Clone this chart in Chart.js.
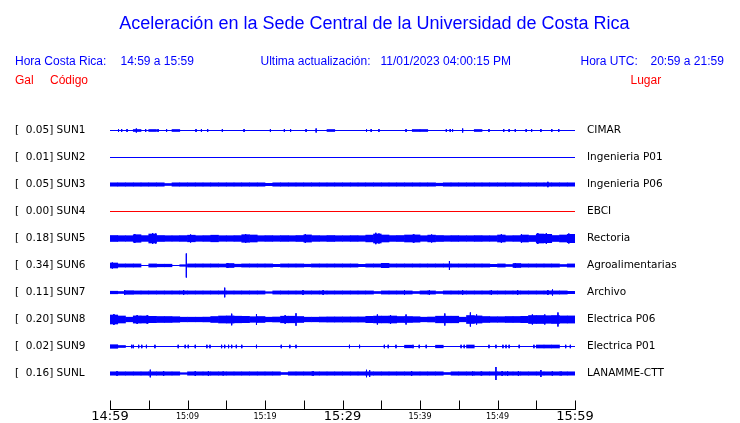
<!DOCTYPE html>
<html lang="es">
<head>
<meta charset="utf-8">
<title>Aceleración Sede Central</title>
<script src="https://cdn.jsdelivr.net/npm/chart.js@4.4.0/dist/chart.umd.min.js"></script>
<style>
  body { margin: 0; background: #fff; }
  #wrap { position: relative; width: 740px; height: 423px; overflow: hidden; }
  #sismo { position: absolute; left: 0; top: 0; }
  .t { position: absolute; font-family: "Liberation Sans", Arial, sans-serif; font-size: 12px; line-height: 1; white-space: pre; }
  .azul { color: #0000ff; }
  .rojo { color: #ff0000; }
  .titulo { left: 0; width: 749px; text-align: center; top: 14px; font-size: 18px; }
</style>
</head>
<body>
<div id="wrap">
  <canvas id="sismo" width="740" height="423"></canvas>
  <div class="t azul titulo">Aceleración en la Sede Central de la Universidad de Costa Rica</div>
  <div class="t azul" style="left:15px;top:54.5px">Hora Costa Rica:</div>
  <div class="t azul" style="left:120.5px;top:54.5px">14:59 a 15:59</div>
  <div class="t azul" style="left:260.5px;top:54.5px">Ultima actualización:</div>
  <div class="t azul" style="left:380.5px;top:54.5px">11/01/2023 04:00:15 PM</div>
  <div class="t azul" style="left:580.5px;top:54.5px">Hora UTC:</div>
  <div class="t azul" style="left:650.5px;top:54.5px">20:59 a 21:59</div>
  <div class="t rojo" style="left:15px;top:74px">Gal</div>
  <div class="t rojo" style="left:50px;top:74px">Código</div>
  <div class="t rojo" style="left:630.5px;top:74px">Lugar</div>
</div>
<script>
// estaciones, pico en Gal y lugar
const estaciones = ['SUN1', 'SUN2', 'SUN3', 'SUN4', 'SUN5', 'SUN6', 'SUN7', 'SUN8', 'SUN9', 'SUNL'];
const picosGal   = ['0.05', '0.01', '0.05', '0.00', '0.18', '0.34', '0.11', '0.20', '0.02', '0.16'];
const lugares    = ['CIMAR', 'Ingenieria P01', 'Ingenieria P06', 'EBCI', 'Rectoria', 'Agroalimentarias',
                    'Archivo', 'Electrica P06', 'Electrica P01', 'LANAMME-CTT'];
const colores    = ['#0000ff', '#0000ff', '#0000ff', '#ff0000', '#0000ff', '#0000ff', '#0000ff', '#0000ff', '#0000ff', '#0000ff'];

// eje de tiempo (minutos desde 14:59)
const minutosTicks = [0, 5, 10, 15, 20, 25, 30, 35, 40, 45, 50, 55, 60];
const etiquetasHora = ['14:59', '', '15:09', '', '15:19', '', '15:29', '', '15:39', '', '15:49', '', '15:59'];
const horasGrandes = ['14:59', '15:29', '15:59'];

// separacion entre trazas (unidades de amplitud)
const separacion = 27;

// envolvente por minuto (semi-amplitud de cada traza)
const sun1Env = [0,0,0,1,0,1,0,0,1,0, 0,0,0,0,0,0,0,0,0,0, 0,0,0,0,0,0,0,0,1,0,
                 0,0,0,0,0,0,0,0,0,1, 1,0,0,0,0,0,0,1,0,0, 0,0,0,0,0,0,0,0,0,0];
const sun2Env = [0,0,0,0,0,0,0,0,0,0, 0,0,0,0,0,0,0,0,0,0, 0,0,0,0,0,0,0,0,0,0,
                 0,0,0,0,0,0,0,0,0,0, 0,0,0,0,0,0,0,0,0,0, 0,0,0,0,0,0,0,0,0,0];
const sun3Env = [1.7,1.7,1.7,1.7,1.7,1.7,1.7,1.0,1.7,1.7, 1.7,1.7,1.7,1.7,1.7,1.7,1.7,1.7,1.7,1.7,
                 1.2,1.7,1.7,1.7,1.7,1.7,1.7,1.7,1.7,1.7, 1.7,1.7,1.7,1.7,1.7,1.7,1.7,1.7,1.7,1.7,
                 1.7,1.7,1.3,1.7,1.7,1.7,1.7,1.7,1.7,1.7, 1.7,1.7,1.7,1.7,1.7,1.7,1.7,1.7,1.7,1.7];
const sun4Env = [0,0,0,0,0,0,0,0,0,0, 0,0,0,0,0,0,0,0,0,0, 0,0,0,0,0,0,0,0,0,0,
                 0,0,0,0,0,0,0,0,0,0, 0,0,0,0,0,0,0,0,0,0, 0,0,0,0,0,0,0,0,0,0];
const sun5Env = [3,2.8,2.8,3.8,2.9,4.5,3,2.8,2.8,2.9, 3.3,2.8,2.9,3.3,2.8,2.8,2.9,3.8,3.5,2.8,
                 2.9,2.8,2.9,2.8,3,3.6,2.9,2.8,3,2.8, 2.8,2.9,2.8,3.4,4.5,3.5,2.9,3,3.5,3.6,
                 2.8,3.4,3,2.8,2.9,2.8,2.8,2.9,2.8,2.8, 3.5,2.8,2.9,3.5,3,4.5,4.2,3,3.5,4.2];
const sun6Env = [2.5,1.6,1.6,1.6,0,1.6,1.3,1.3,0,0.8, 1.6,1.6,1.6,1.6,1.5,2,1.3,1.6,1.6,1.6,
                 1.6,1.2,1.6,1.6,1.6,1.3,1.6,1.6,1.6,1.6, 1.6,1.6,1.2,1.6,1.6,2.2,1.6,1.6,1.6,1.6,
                 1.6,1.6,1.6,1.6,1.6,1.6,1.6,1.6,1.6,1.2, 1.6,1,2,1.6,1.6,1.6,1.6,1.6,1,1.6];
const sun7Env = [1.3,1,1.8,1.6,1.6,1.6,1.6,1.6,1.6,1.6, 1.6,1.6,1.6,1.6,1.6,1.6,1.6,1.6,1.6,1.6,
                 0.8,1.6,1.6,1.6,1.6,1.6,1.6,1.6,1.6,1.6, 1.6,1.6,1.6,1.6,1,1.6,1.6,1.6,1.6,1,
                 1.6,1.6,1,1.6,1.6,1.6,1.6,1.6,1.6,1.6, 1.6,1.6,1.6,1.6,1.6,1.6,1.6,1.6,1.6,1.2];
const sun8Env = [4.5,3.5,2.3,3.6,3.5,3.2,3,3,2.8,2.3, 2.3,2.3,2.4,3,3.5,3.6,3.3,3.2,2.8,3,
                 2.3,2.5,3.3,3.3,3,2.3,2.3,2.5,2.6,2.6, 2.6,2.6,2.6,3.2,3.4,3.4,3.5,3,3,2.8,
                 2.3,2.5,3.3,3.3,3.3,2.3,4,3.6,3,2.8, 2.8,3,3,3.2,4,4,3.8,4,3.6,3.6];
const sun9Env = [1.8,1,0,0,0,0,0,0,0,0, 0,0,0,0,0,0,0,0,0,0, 0,0,0,0,0,0,0,0,0,0,
                 0,0,0,0,0,0,0,0,1.3,0, 0,0,1.3,0,0,0,1.5,0,0,0, 0,0,0,0,0,1.5,1.5,1.5,0,0];
const sunLEnv = [1.7,1.7,1.7,1.7,1.7,1.7,1.7,1.7,1.7,0.8, 1.7,1.7,1.7,1.7,1.7,1.7,1.7,1.7,1.7,1.7,
                 1.7,1.7,1.0,1.7,1.7,1.7,1.7,1.7,1.7,1.7, 1.7,1.7,1.7,1.7,1.7,1.7,1.7,1.7,1.7,1.7,
                 1.7,1.7,1.7,1.0,1.7,1.7,1.7,1.7,1.7,1.7, 1.7,1.7,1.7,1.7,1.7,1.7,1.7,1.7,1.7,1.7];

// picos aislados: [minuto, semi-amplitud]
const sun1Picos = [[1.1,1.5],[1.5,1.5],[2.2,1.5],[3.4,2],[4.6,1.5],[6.2,1.5],[7.3,1.5],[11.1,1.5],[11.8,1.5],
                   [12.6,1.5],[14.5,1.5],[17.3,1.5],[20.7,1.5],[22.5,1.5],[23.3,1.5],[25.3,1.5],[26.6,2],
                   [33.1,1.5],[33.7,1.5],[34.7,1.5],[38.2,1.5],[43.4,1.5],[43.9,1.5],[44.2,1.5],[45.5,2],
                   [48.9,1.5],[50.8,1.5],[51.5,1.5],[52.3,1.5],[53.7,1.5],[54.4,1.5],[55.6,1.5],[57.0,1.5],[57.9,1.5]];
const sun2Picos = [];
const sun3Picos = [[56.5,2.7]];
const sun4Picos = [];
const sun5Picos = [[3.2,4.5],[5.5,5.5],[5.9,5],[10.4,4],[17.5,4.5],[25.2,4.3],[34.3,5.7],[34.7,5],[39.2,4.3],
                   [41.5,4],[50.5,4.3],[53.1,4.2],[55.2,5.5],[56.3,5.3],[59.2,5]];
const sun6Picos = [[0.3,3],[9.85,12],[15.2,2.5],[35.4,2.5],[43.8,4.5],[52.3,2.5]];
const sun7Picos = [[1.9,2.5],[9.5,2.5],[14.8,4.8],[24.9,2.5],[27.5,2.5],[38.0,2.5],[41.2,2.3],[45.5,2.3],
                   [49.2,2.3],[52.6,2.5],[56.5,2.5],[57.1,3]];
const sun8Picos = [[0.5,5.5],[3.5,4.5],[4.8,4.3],[15.7,5.8],[18.9,5.5],[22.6,4.3],[24.0,6.2],[34.5,5],[36.2,4.5],
                   [38.2,5],[43.2,6],[46.5,7],[47.3,5],[54.5,5],[56.1,5],[57.8,7]];
const sun9Picos = [[2.8,1.7],[3.0,1.7],[3.7,1.7],[4.1,1.7],[4.7,1.7],[5.8,1.7],[8.8,1.7],[9.7,1.7],[10.1,1.7],
                   [11.0,1.7],[12.5,1.7],[12.9,1.7],[14.4,1.7],[14.8,1.7],[15.3,1.7],[15.7,1.7],[16.3,1.7],
                   [17.0,1.7],[18.9,1.7],[22.1,1.7],[23.2,1.7],[24.0,1.7],[30.9,1.7],[32.2,1.7],[35.4,1.7],
                   [35.9,1.7],[36.9,1.7],[39.1,1.7],[39.9,1.7],[40.8,1.7],[45.3,1.7],[45.7,1.7],[48.9,1.7],
                   [49.8,1.7],[50.7,1.7],[51.1,1.7],[51.5,1.7],[52.8,1.7],[54.7,1.7],[58.8,1.7],[59.4,1.7]];
const sunLPicos = [[0.9,2.3],[5.2,3.8],[6.9,2.5],[11.0,2.3],[12.7,2.5],[14.6,2],[26.2,2.5],[33.1,3.7],[33.5,3.5],
                   [38.9,2.5],[46.8,2],[47.9,2],[49.8,6.5],[50.6,2.5],[51.3,2.5],[52.7,2.5],[55.6,3.5],[57.1,2],[58.2,2]];

const envolventes = [sun1Env, sun2Env, sun3Env, sun4Env, sun5Env, sun6Env, sun7Env, sun8Env, sun9Env, sunLEnv];
const picos = [sun1Picos, sun2Picos, sun3Picos, sun4Picos, sun5Picos, sun6Picos, sun7Picos, sun8Picos, sun9Picos, sunLPicos];

const centros = estaciones.map((_, i) => i * separacion);

// barras flotantes a partir de la envolvente
function barras(env, c) {
  return env.map((a, m) => (a > 0 ? { x: m + 0.5, y: [c - a, c + a] } : null)).filter(Boolean);
}

// segmentos verticales de los picos
function segmentos(lista, c) {
  const pts = [];
  lista.forEach(([t, a]) => {
    pts.push({ x: t, y: c - a }, { x: t, y: c + a }, { x: t, y: null });
  });
  return pts;
}

const datasets = [];
estaciones.forEach((est, i) => {
  const c = centros[i];
  datasets.push({
    type: 'line', label: est + ' base',
    data: [{ x: minutosTicks[0], y: c }, { x: minutosTicks[minutosTicks.length - 1], y: c }],
    borderColor: colores[i], borderWidth: 1, pointRadius: 0, tension: 0
  });
  datasets.push({
    type: 'bar', label: est,
    data: barras(envolventes[i], c),
    backgroundColor: colores[i], borderWidth: 0, grouped: false,
    barPercentage: 1, categoryPercentage: 1
  });
  datasets.push({
    type: 'line', label: est + ' picos',
    data: segmentos(picos[i], c),
    borderColor: colores[i], borderWidth: 1, pointRadius: 0, tension: 0, spanGaps: false
  });
});

// linea del eje de tiempo con marcas hacia arriba
const ejeTiempo = {
  id: 'ejeTiempo',
  afterDraw(chart) {
    const { ctx, chartArea, scales: { x } } = chart;
    const yb = Math.round(chartArea.bottom) + 0.5;
    ctx.save();
    ctx.strokeStyle = '#000';
    ctx.lineWidth = 1;
    ctx.beginPath();
    ctx.moveTo(Math.round(chartArea.left), yb);
    ctx.lineTo(Math.round(chartArea.right) + 1, yb);
    x.ticks.forEach(t => {
      const px = Math.round(x.getPixelForValue(t.value)) + 0.5;
      ctx.moveTo(px, yb - 9);
      ctx.lineTo(px, yb);
    });
    ctx.stroke();
    ctx.restore();
  }
};

const yMin = -14.5;
const yMax = 278.5;

new Chart(document.getElementById('sismo'), {
  type: 'bar',
  data: { datasets },
  plugins: [ejeTiempo],
  options: {
    responsive: false,
    animation: false,
    devicePixelRatio: 1,
    layout: { padding: { top: 116, left: 15, right: 0, bottom: 0 } },
    plugins: { legend: { display: false }, tooltip: { enabled: false }, title: { display: false } },
    scales: {
      x: {
        type: 'linear', min: 0, max: 60, offset: false,
        afterBuildTicks: s => { s.ticks = minutosTicks.map(v => ({ value: v })); },
        afterFit: s => { s.height = 14; },
        grid: { display: false, drawTicks: false, offset: false },
        border: { display: false },
        ticks: {
          autoSkip: false, maxRotation: 0, padding: 0, color: '#000',
          callback: (v, i) => etiquetasHora[i],
          font: ctx => horasGrandes.includes(etiquetasHora[ctx.index])
            ? { family: 'DejaVu Sans', size: 13, lineHeight: 1.2 }
            : { family: 'DejaVu Sans', size: 8, lineHeight: 2 }
        }
      },
      y: {
        type: 'linear', position: 'left', reverse: true, min: yMin, max: yMax,
        afterBuildTicks: s => { s.ticks = centros.map(v => ({ value: v })); },
        afterFit: s => { s.width = 95; },
        grid: { display: false, drawTicks: false },
        border: { display: false },
        ticks: {
          crossAlign: 'far', padding: 0, color: '#000',
          font: { family: 'DejaVu Sans', size: 10.5 },
          callback: (v, i) => '[  ' + picosGal[i] + '] ' + estaciones[i]
        }
      },
      y2: {
        type: 'linear', position: 'right', reverse: true, min: yMin, max: yMax,
        afterBuildTicks: s => { s.ticks = centros.map(v => ({ value: v })); },
        afterFit: s => { s.width = 165; },
        grid: { display: false, drawTicks: true, tickLength: 12 },
        border: { display: false },
        ticks: {
          padding: 0, color: '#000',
          font: { family: 'DejaVu Sans', size: 10.5 },
          callback: (v, i) => lugares[i]
        }
      }
    }
  }
});
</script>
</body>
</html>
